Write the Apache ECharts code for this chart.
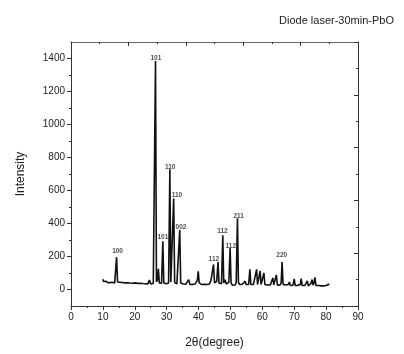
<!DOCTYPE html>
<html>
<head>
<meta charset="utf-8">
<script src="https://cdn.jsdelivr.net/npm/echarts@6/dist/echarts.min.js"></script>
<style>html,body{margin:0;padding:0;background:#fff}#c{width:404px;height:354px}</style>
</head>
<body>
<div id="c"></div>
<script>
const twoTheta = [10.0,10.2,10.4,10.6,10.9,11.2,11.5,11.8,12.1,12.4,12.8,13.1,13.4,13.7,14.0,14.3,14.6,14.9,15.3,15.7,16.1,16.5,16.9,17.3,17.7,18.1,18.5,18.9,19.3,19.7,20.1,20.5,20.9,21.3,21.7,22.1,22.5,22.9,23.3,23.7,24.1,24.6,25.0,25.4,25.8,26.2,26.5,26.8,27.1,27.4,27.7,28.1,28.4,28.8,29.1,29.5,29.9,30.3,30.6,31.0,31.3,31.6,31.9,32.2,32.5,32.8,33.2,33.6,34.1,34.4,34.8,35.2,35.6,36.0,36.5,36.9,37.3,37.7,38.1,38.5,38.9,39.3,39.6,39.9,40.2,40.6,41.0,41.4,41.8,42.2,42.6,43.0,43.4,43.9,44.2,44.7,45.0,45.3,45.7,46.1,46.4,46.8,47.2,47.6,47.9,48.3,48.7,49.1,49.5,49.9,50.2,50.6,51.0,51.4,51.8,52.2,52.5,52.9,53.3,53.7,54.1,54.6,54.9,55.3,55.7,56.1,56.4,56.8,57.2,57.6,58.2,58.5,58.9,59.3,59.6,60.0,60.5,60.8,61.2,61.6,62.0,62.5,62.9,63.3,63.6,64.0,64.4,64.7,65.1,65.5,65.9,66.2,66.5,66.9,67.3,67.7,68.1,68.5,68.8,69.2,69.6,70.0,70.3,70.7,71.1,71.5,71.9,72.2,72.5,72.9,73.3,73.7,74.1,74.4,74.8,75.2,75.6,75.9,76.2,76.5,76.8,77.2,77.6,78.0,78.4,78.8,79.2,79.6,80.0,80.4,80.8,81.0];
const intensity = [62,48,55,45,50,42,47,40,46,41,44,38,45,40,48,196,45,38,44,36,42,37,40,35,41,36,39,34,38,35,40,34,37,33,38,32,36,31,35,30,34,58,33,30,36,40,1385,45,60,125,40,33,38,292,40,30,35,32,40,728,45,35,40,552,42,30,34,38,360,40,30,33,28,32,30,60,30,27,31,28,33,30,55,110,40,28,30,27,31,26,30,28,33,55,45,152,40,30,50,166,40,30,35,328,40,60,33,30,45,252,40,26,30,27,40,432,45,30,26,32,38,50,30,25,30,122,30,25,30,35,122,30,40,112,30,40,100,30,24,28,22,27,30,70,28,40,88,28,22,26,40,166,30,22,27,22,30,45,24,20,26,64,24,20,25,22,30,66,24,19,24,20,52,22,20,35,60,26,40,74,25,20,24,19,22,18,22,20,24,22,32,28];
const peakLabels = ['100','101','101','110','110','002','112','112','112','211','220'];
const peakLabelX = [14.6,26.6,28.8,31.1,33.2,34.5,44.8,47.5,50.1,52.6,66.1];
const peakLabelY = [230,1400,318,743,569,376,184,356,260,443,206];
const xTicks = [0,10,20,30,40,50,60,70,80,90];
const yTickLabels = [0,200,400,600,800,1000,1200,1400];
const yMinorTicks = [100,300,500,700,900,1100,1300];

const axisColor = '#333';
const chart = echarts.init(document.getElementById('c'), null, {renderer:'canvas'});
chart.setOption({
  animation: false,
  backgroundColor: '#fff',
  title: {
    text: 'Diode laser-30min-PbO', right: 5, top: 10,
    textStyle: {fontFamily: 'Liberation Sans, Arial', fontSize: 11, fontWeight: 'normal', color: '#222'}
  },
  grid: {left: 71, right: 46, top: 42, bottom: 45},
  xAxis: [{
    type: 'value', position: 'bottom', min: 0, max: 90, interval: 10,
    axisLine: {show: true, onZero: false, lineStyle: {color: axisColor, width: 1}},
    axisTick: {show: true, inside: false, length: 4, lineStyle: {color: axisColor}},
    minorTick: {show: true, splitNumber: 2, length: 2, lineStyle: {color: axisColor}},
    splitLine: {show: false},
    axisLabel: {fontSize: 10, color: '#222', margin: 6, fontFamily: 'Liberation Sans, Arial', formatter: v => String(v)},
    name: '2θ(degree)', nameLocation: 'middle', nameGap: 31,
    nameTextStyle: {fontSize: 12, color: '#222', fontFamily: 'Liberation Sans, Arial'}
  }, {
    type: 'value', position: 'top', min: 0, max: 10, interval: 2,
    axisLine: {show: true, onZero: false, lineStyle: {color: '#666', width: 1}},
    axisTick: {show: true, inside: true, length: 4, lineStyle: {color: axisColor}},
    minorTick: {show: true, splitNumber: 2, length: 2, lineStyle: {color: axisColor}},
    splitLine: {show: false}, axisLabel: {show: false}
  }],
  yAxis: [{
    type: 'value', position: 'left', min: -100, max: 1500,
    axisLine: {show: true, onZero: false, lineStyle: {color: axisColor, width: 1}},
    axisTick: {show: true, inside: false, length: 4, customValues: yTickLabels, lineStyle: {color: axisColor}},
    splitLine: {show: false},
    axisLabel: {fontSize: 10, color: '#222', margin: 6, customValues: yTickLabels, fontFamily: 'Liberation Sans, Arial', formatter: v => String(v)},
    name: 'Intensity', nameLocation: 'middle', nameGap: 44,
    nameTextStyle: {fontSize: 12, color: '#222', fontFamily: 'Liberation Sans, Arial'}
  }, {
    type: 'value', position: 'right', min: 0, max: 10, interval: 2,
    axisLine: {show: true, onZero: false, lineStyle: {color: axisColor, width: 1}},
    axisTick: {show: true, inside: true, length: 4, lineStyle: {color: axisColor}},
    minorTick: {show: true, splitNumber: 2, length: 2, lineStyle: {color: axisColor}},
    splitLine: {show: false}, axisLabel: {show: false}
  }, {
    type: 'value', position: 'left', min: -100, max: 1500,
    axisLine: {show: false},
    axisTick: {show: true, inside: false, length: 2, customValues: yMinorTicks, lineStyle: {color: axisColor}},
    splitLine: {show: false}, axisLabel: {show: false}
  }],
  series: [{
    type: 'line', xAxisIndex: 0, yAxisIndex: 0,
    data: twoTheta.map((x, i) => [x, intensity[i]]),
    showSymbol: false, symbol: 'none',
    lineStyle: {color: '#111', width: 1.6}
  }, {
    type: 'scatter', xAxisIndex: 0, yAxisIndex: 0, symbolSize: 0,
    data: peakLabels.map((t, i) => ({value: [peakLabelX[i], peakLabelY[i]], name: t})),
    label: {show: true, position: 'inside', formatter: p => p.name,
      fontSize: 6.5, fontWeight: 'bold', color: '#222', fontFamily: 'Liberation Sans, Arial'}
  }]
});
</script>
</body>
</html>
